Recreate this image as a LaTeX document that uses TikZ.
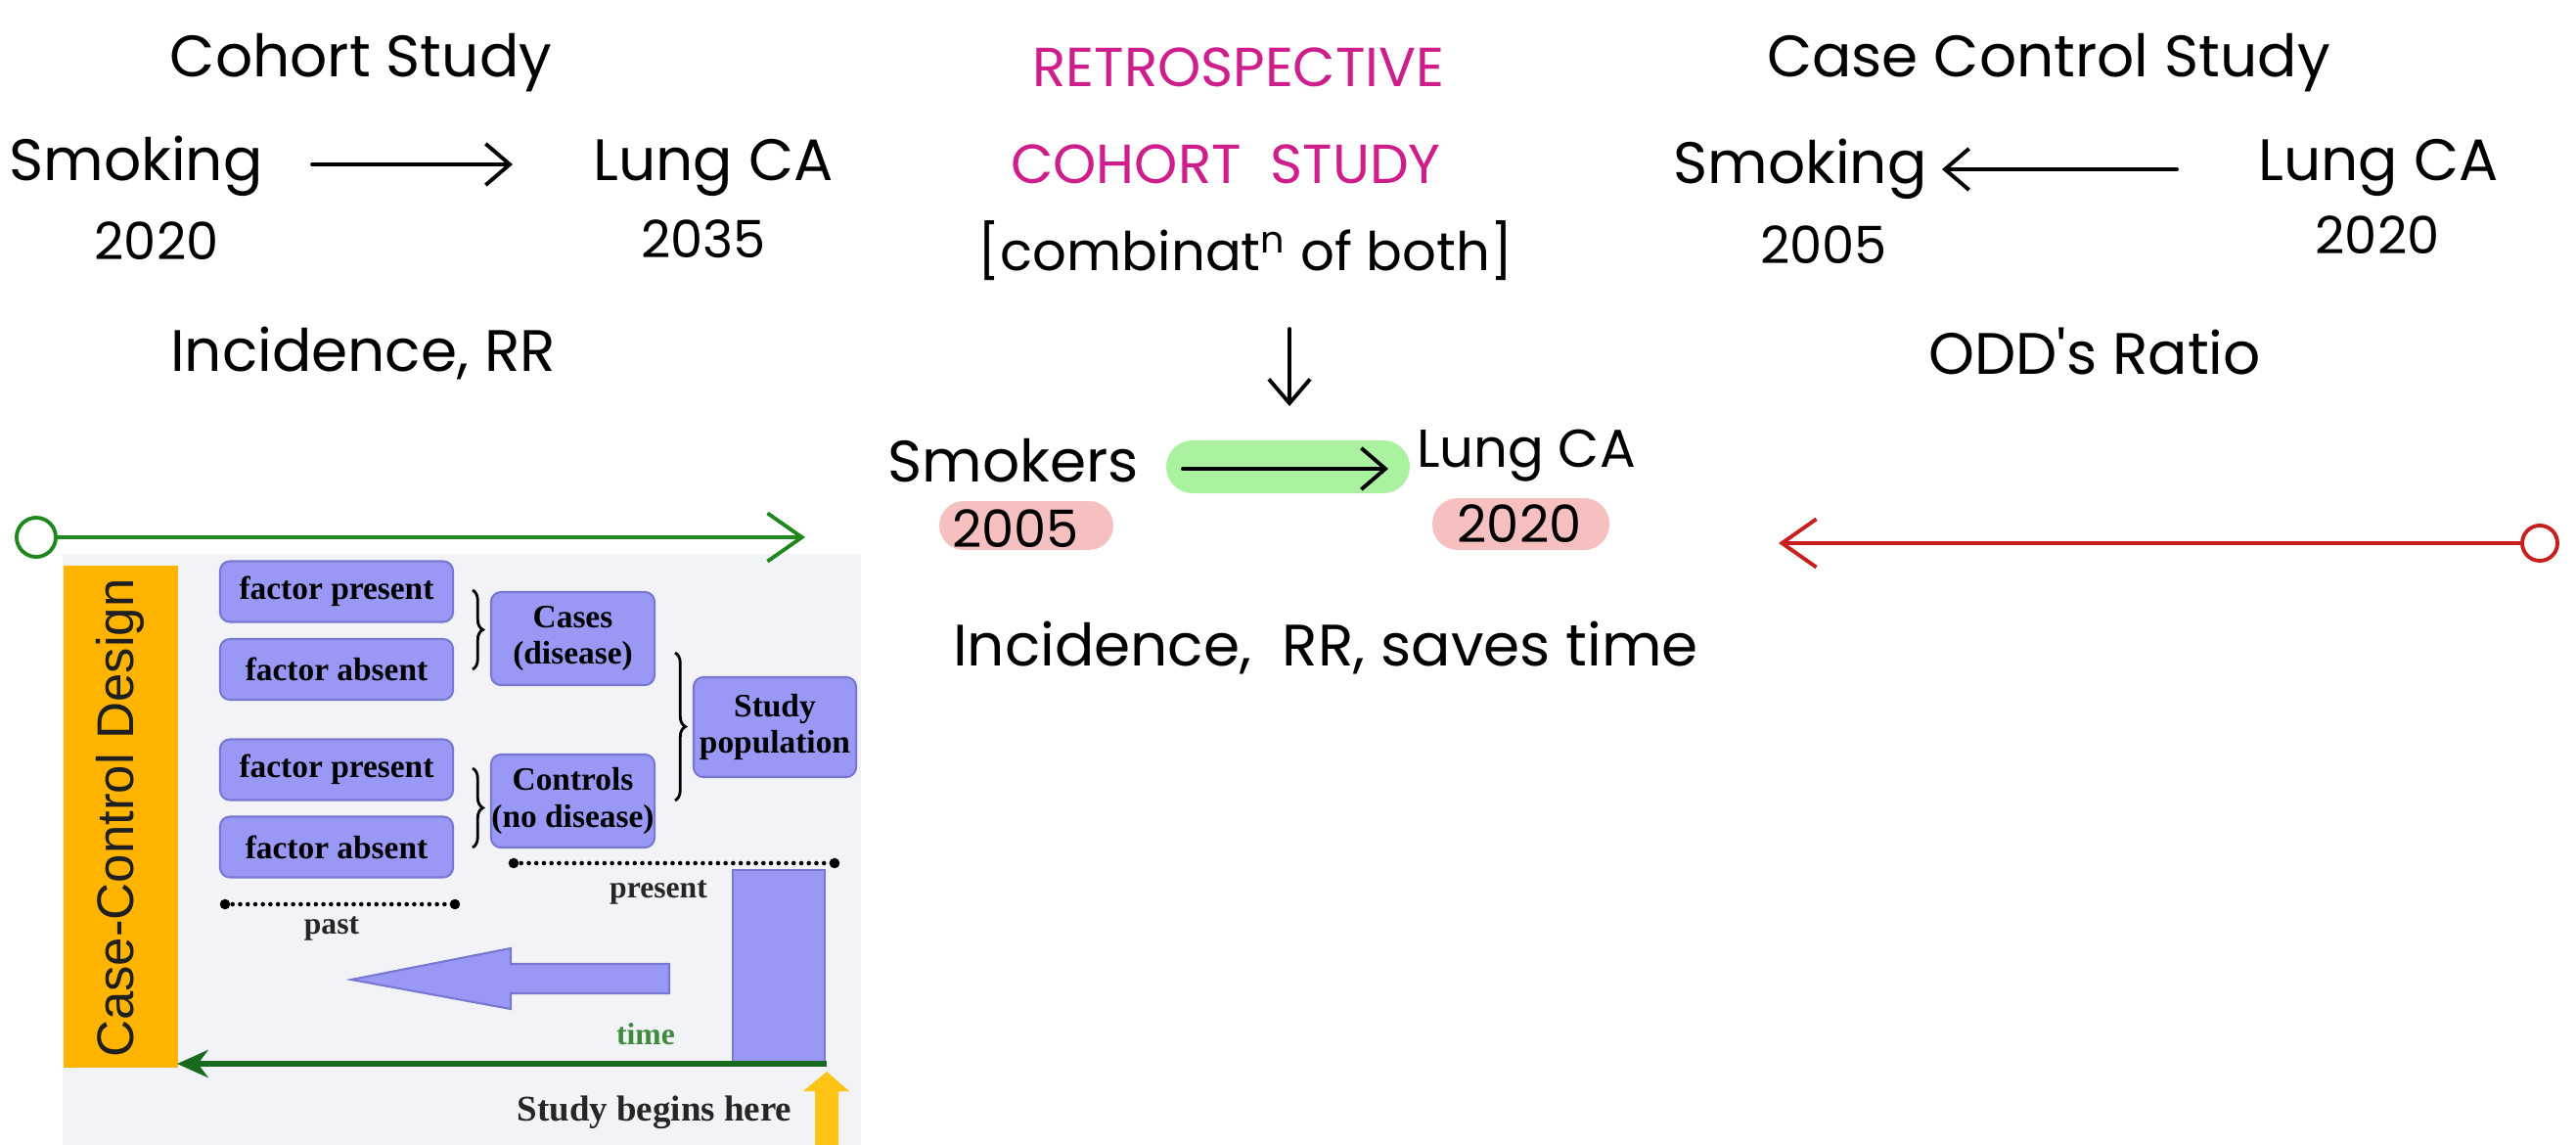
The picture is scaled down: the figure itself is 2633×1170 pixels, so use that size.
\documentclass[tikz,border=0pt]{standalone}
\usepackage{fontspec}
\setmainfont{Liberation Serif}
\newfontfamily\handfont{Poppins}
\newfontfamily\slidesans{Liberation Sans}
\usetikzlibrary{arrows.meta,decorations.pathreplacing}

\definecolor{inkmag}{RGB}{205,30,140}
\definecolor{hlgreen}{RGB}{170,242,160}
\definecolor{hlpink}{RGB}{246,192,192}
\definecolor{linegreen}{RGB}{30,135,30}
\definecolor{darkgreen}{RGB}{25,105,30}
\definecolor{timegreen}{RGB}{60,140,60}
\definecolor{linered}{RGB}{200,30,30}
\definecolor{boxfill}{RGB}{153,153,245}
\definecolor{boxedge}{RGB}{120,120,210}
\definecolor{panelbg}{RGB}{241,243,247}
\definecolor{orangebar}{RGB}{255,180,0}
\definecolor{yellowarrow}{RGB}{255,195,20}

\begin{document}
\begin{tikzpicture}[x=0.01cm,y=-0.01cm,
  hw/.style={font=\handfont\fontsize{17}{20}\selectfont, anchor=base, inner sep=0pt},
  hwsmall/.style={font=\handfont\fontsize{15.5}{18}\selectfont, anchor=base, inner sep=0pt},
  hwnum/.style={font=\handfont\fontsize{15}{18}\selectfont, anchor=base, inner sep=0pt},
  hwcap/.style={font=\handfont\fontsize{16}{19}\selectfont, anchor=base, inner sep=0pt, text=inkmag},
  harrow/.style={line width=1.1pt, line cap=round, -{Straight Barb[length=7pt,width=12pt]}},
  timeline/.style={line width=1.1pt, -{Straight Barb[length=10pt,width=14pt]}},
  endring/.style={circle, draw, line width=1.1pt, fill=white, inner sep=0pt, minimum size=0.36cm},
  cbox/.style={draw=boxedge, fill=boxfill, line width=0.6pt, rounded corners=0.1cm,
    font=\bfseries\fontsize{9.5}{10.6}\selectfont, align=center, inner sep=0pt},
  fbox/.style={cbox, minimum width=2.38cm, minimum height=0.62cm},
  gbox/.style={cbox, minimum width=1.67cm, minimum height=0.95cm},
  slidetext/.style={font=\bfseries\fontsize{9}{10}\selectfont, inner sep=0pt, text=black!85},
  bracestyle/.style={decorate, decoration={brace, amplitude=3pt}, line width=0.8pt},
  dotrule/.style={line width=1.3pt, line cap=round, dash pattern=on 0pt off 2.2pt}
]
\path[use as bounding box, fill=white] (0,0) rectangle (2633,1170);

% ---------- cohort study ----------
\node[hw] (cohortT) at (369,79) {Cohort Study};
\node[hw] (smokeL) at (139,185) {Smoking};
\node[hw] (lungL) at (729,185) {Lung CA};
\node[hwnum] (yrL1) at (160,265) {2020};
\node[hwnum] (yrL2) at (719,264) {2035};
\node[hw] (incL) at (371,379) {Incidence, RR};
\coordinate (arL1) at (319,168);
\coordinate (arL2) at (524,168);
\draw[harrow] (arL1) -- (arL2);

% ---------- retrospective cohort study ----------
\node[hwcap] (retro) at (1266,89) {RETROSPECTIVE};
\node[hwcap] (cohortC) at (1253,188) {COHORT\ \ STUDY};
\node[hwsmall] (combo) at (1273,277) {[combinat\textsuperscript{n} of both]};
\coordinate (dnA) at (1318,336);
\coordinate (dnB) at (1318,415);
\draw[harrow] (dnA) -- (dnB);

\fill[hlgreen] (1192,450) [rounded corners=0.27cm] rectangle (1441,504);
\fill[hlpink] (960,512) [rounded corners=0.25cm] rectangle (1138,562);
\fill[hlpink] (1464,509) [rounded corners=0.26cm] rectangle (1645,562);

\node[hw] (smokers) at (1036,492) {Smokers};
\node[hwsmall] (lungM) at (1560,477) {Lung CA};
\node[hwnum] (yrM1) at (1038,559) {2005};
\node[hwnum] (yrM2) at (1553,554) {2020};
\coordinate (arM1) at (1209,479);
\coordinate (arM2) at (1419,479);
\draw[harrow] (arM1) -- (arM2);
\node[hw] (incM) at (1355,680) {Incidence,\ \ RR, saves time};

% ---------- case control study ----------
\node[hw] (ccT) at (2094,79) {Case Control Study};
\node[hw] (smokeR) at (1840,188) {Smoking};
\node[hw] (lungR) at (2431,185) {Lung CA};
\node[hwnum] (yrR1) at (1864,269) {2005};
\node[hwnum] (yrR2) at (2430,260) {2020};
\node[hw] (odds) at (2141,383) {ODD's Ratio};
\coordinate (arR1) at (2225,173);
\coordinate (arR2) at (1985,173);
\draw[harrow] (arR1) -- (arR2);

% red retrospective time line
\node[endring, draw=linered] (redring) at (2596,555) {};
\coordinate (redtip) at (1818,555);
\draw[timeline, linered] (redring) -- (redtip);

% ---------- case-control design panel ----------
\fill[panelbg] (64,566) rectangle (880,1170);
\node[endring, draw=linegreen, minimum size=0.4cm] (greenring) at (37,549) {};
\coordinate (greentip) at (823,549);
\draw[timeline, linegreen] (greenring) -- (greentip);

\fill[orangebar] (65,578) rectangle (182,1091);
\node[rotate=90, font=\slidesans\fontsize{15}{18}\selectfont, text=black!88] (ccd) at (123,836) {Case-Control Design};

\node[fbox] (fp1) at (344,604.5) {factor present};
\node[fbox] (fa1) at (344,684) {factor absent};
\node[fbox] (fp2) at (344,786.5) {factor present};
\node[fbox] (fa2) at (344,865.5) {factor absent};
\node[gbox] (cases) at (585.5,652.5) {Cases\\(disease)};
\node[gbox] (controls) at (585.5,818.5) {Controls\\(no disease)};
\node[cbox, minimum width=1.66cm, minimum height=1.02cm] (studypop) at (792,743) {Study\\population};

\coordinate (b1t) at (483,603); \coordinate (b1b) at (483,684);
\coordinate (b2t) at (483,785); \coordinate (b2b) at (483,866);
\coordinate (b3t) at (690,667); \coordinate (b3b) at (690,818);
\draw[bracestyle] (b1t) -- (b1b);
\draw[bracestyle] (b2t) -- (b2b);
\draw[bracestyle] (b3t) -- (b3b);

% past / present rules
\coordinate (pastA) at (230,924); \coordinate (pastB) at (465,924);
\coordinate (presA) at (525,882); \coordinate (presB) at (853,882);
\draw[dotrule] (pastA) -- (pastB);
\draw[dotrule] (presA) -- (presB);
\foreach \p in {pastA,pastB,presA,presB} \fill (\p) circle (1.5pt);
\node[slidetext] (past) at (339,949) {past};
\node[slidetext] (present) at (673,912) {present};

% backward block arrow
\draw[fill=boxfill, draw=boxedge, line width=0.6pt]
  (359,1001) -- (522,969) -- (522,985) -- (684,985) -- (684,1015) -- (522,1015) -- (522,1031) -- cycle;
% present bar
\draw[fill=boxfill, draw=boxedge, line width=0.6pt] (749,889) rectangle (843,1086);

\node[slidetext, text=timegreen] (time) at (660,1057) {time};
\coordinate (timeR) at (845,1087);
\coordinate (timeL) at (181,1087);
\draw[darkgreen, line width=1.5pt, -{Stealth[length=9pt,width=8pt]}] (timeR) -- (timeL);

\node[slidetext, font=\bfseries\fontsize{10.5}{12}\selectfont] (begins) at (669,1137) {Study begins here};
\fill[yellowarrow] (845,1095) -- (868,1115) -- (857,1115) -- (857,1170) -- (833,1170) -- (833,1115) -- (821,1115) -- cycle;
\end{tikzpicture}
\end{document}
